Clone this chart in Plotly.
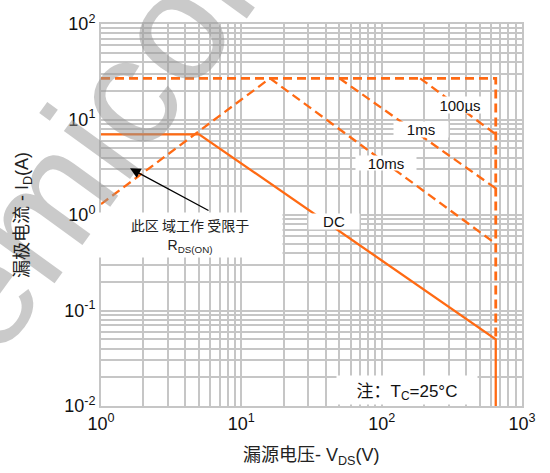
import numpy as np
import plotly.graph_objects as go

# ---- data ----
rds_v = [1, 16]
rds_i = [1.3, 27]
limit_v = [1, 650, 650]
limit_i = [27, 27, 0.05]
t10ms_v = [16, 650]
t10ms_i = [27, 0.5]
t1ms_v = [50, 650]
t1ms_i = [27, 1.9]
t100us_v = [188, 650]
t100us_i = [27, 7.0]
dc_v = [1, 5, 650, 650]
dc_i = [7, 7, 0.05, 0.01]

x_ticks = [1, 10, 100, 1000]
x_tick_text = ["10<sup>0</sup>", "10<sup>1</sup>", "10<sup>2</sup>", "10<sup>3</sup>"]
y_ticks = [0.01, 0.1, 1, 10, 100]
y_tick_text = ["10<sup>-2</sup>", "10<sup>-1</sup>", "10<sup>0</sup>", "10<sup>1</sup>", "10<sup>2</sup>"]

ORANGE = "#FF6A13"
GRID = "#C6C6C6"
LAT = "Liberation Sans, Arial"

fig = go.Figure()
dash = "9px,5px"
fig.add_trace(go.Scatter(x=limit_v, y=limit_i, mode="lines",
                         line=dict(color=ORANGE, width=2.8, dash=dash), hoverinfo="skip"))
for xv, yv in [(rds_v, rds_i), (t10ms_v, t10ms_i), (t1ms_v, t1ms_i), (t100us_v, t100us_i)]:
    fig.add_trace(go.Scatter(x=xv, y=yv, mode="lines",
                             line=dict(color=ORANGE, width=2.3, dash=dash), hoverinfo="skip"))
fig.add_trace(go.Scatter(x=dc_v, y=dc_i, mode="lines",
                         line=dict(color=ORANGE, width=2.3), hoverinfo="skip"))

def lx(v):
    return float(np.log10(v))

anns = []
# watermark (drawn first so other labels sit above it)
anns.append(dict(xref="paper", yref="paper", x=(70 - 101) / 421, y=(406.5 - 165) / 391,
                 showarrow=False, textangle=-54, text="Semicon",
                 font=dict(family=LAT, size=155, color="rgba(150,150,150,0.5)"),
                 xanchor="center", yanchor="middle"))

def box(text, x, y, w, h, size=15):
    anns.append(dict(x=lx(x), y=lx(y), xref="x", yref="y", text=text, showarrow=False,
                     bgcolor="white", width=w, height=h, borderpad=0,
                     font=dict(family=LAT, size=size, color="#111")))

box("100µs", 362, 14.3, 52, 16)
box("1ms", 191, 7.9, 54, 15)
box("10ms", 107, 3.5, 60, 14)
box("DC", 45.8, 0.85, 50, 15)
anns.append(dict(x=lx(4.3), y=lx(0.62), xref="x", yref="y", showarrow=False,
                 text="<span style='font-family:Noto Sans CJK SC'>此区 域工作 受限于</span><br>R<sub>DS(ON)</sub>",
                 bgcolor="white", width=184, height=44, borderpad=0,
                 font=dict(family=LAT, size=14, color="#222")))
anns.append(dict(x=lx(152), y=lx(0.0148), xref="x", yref="y", showarrow=False,
                 text="<span style='font-family:Noto Sans CJK SC'>注：</span>T<sub>C</sub>=25°C",
                 bgcolor="white", width=140, height=28, borderpad=0,
                 font=dict(family=LAT, size=17, color="#111")))
# arrow
anns.append(dict(x=lx(1.61), y=lx(3.08), xref="x", yref="y", text="", showarrow=True,
                 ax=80, ay=43, arrowhead=2, arrowsize=1.6, arrowwidth=1.3, arrowcolor="black"))
# axis titles
anns.append(dict(x=0.5, y=-0.125, xref="paper", yref="paper", showarrow=False,
                 text="<span style='font-family:Noto Sans CJK SC'>漏源电压</span>- V<sub>DS</sub>(V)",
                 font=dict(family=LAT, size=18, color="#222"), yanchor="middle"))
anns.append(dict(x=-0.19, y=0.5, xref="paper", yref="paper", showarrow=False, textangle=-90,
                 text="<span style='font-family:Noto Sans CJK SC'>漏极电流</span> - I<sub>D</sub>(A)",
                 font=dict(family=LAT, size=18, color="#222"), xanchor="center"))

axis_common = dict(type="log", showgrid=True, gridcolor=GRID, gridwidth=1.8,
                   minor=dict(dtick="D1", showgrid=True, gridcolor=GRID, gridwidth=1.8, ticklen=0),
                   showline=True, linecolor=GRID, linewidth=2, mirror=True,
                   ticks="", zeroline=False,
                   tickfont=dict(family=LAT, size=18, color="#111"))

fig.update_xaxes(range=[0, 3], tickvals=x_ticks, ticktext=x_tick_text, **axis_common)
fig.update_yaxes(range=[-2, 2], tickvals=y_ticks, ticktext=y_tick_text, **axis_common)

fig.update_layout(width=550, height=473, showlegend=False,
                  margin=dict(l=101, r=28, t=15, b=66.5),
                  plot_bgcolor="white", paper_bgcolor="white",
                  annotations=anns)
fig.write_html("out.html", config={"displayModeBar": False},
               post_script="document.body.style.margin='0';")
